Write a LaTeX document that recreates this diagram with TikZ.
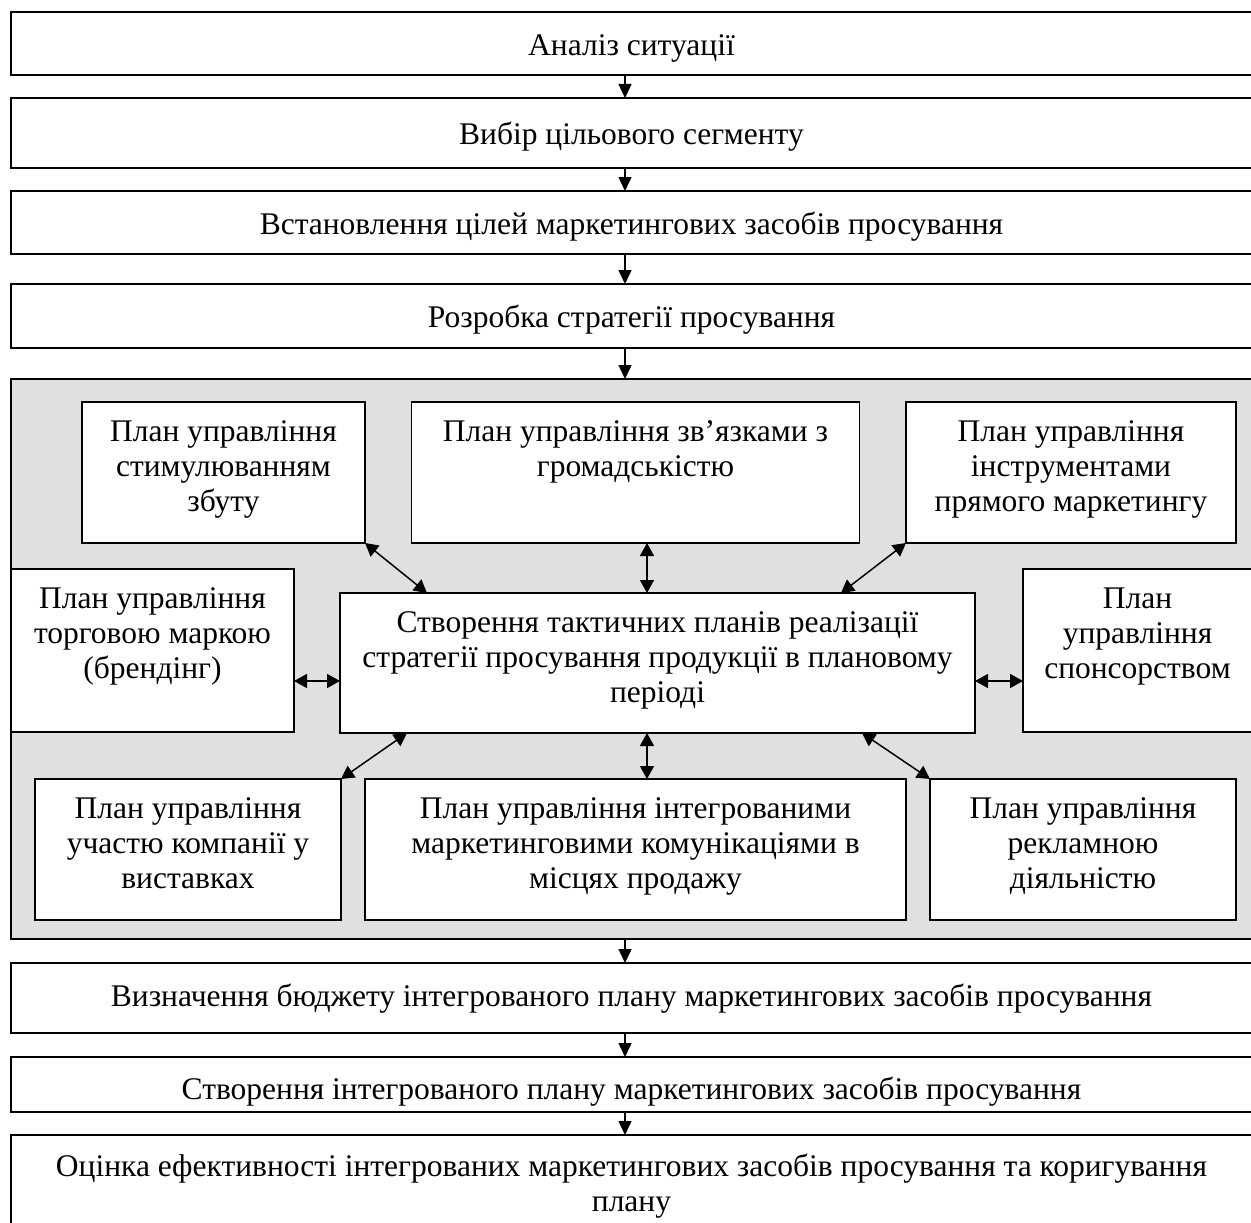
\documentclass[tikz,border=0pt]{standalone}
\usepackage{fontspec}
\setmainfont{Liberation Serif}
\usetikzlibrary{arrows.meta}
\definecolor{panelgray}{RGB}{224,224,224}
\tikzset{
  box/.style={draw, line width=1.5pt, fill=white, anchor=north west, inner sep=0pt, outer sep=0pt},
  txt/.style={anchor=north, align=center, inner sep=0pt, yshift=-18.5pt,
    font=\fontsize{31.5}{35}\selectfont, execute at begin node=\strut},
  arr/.style={line width=1.5pt, -{Triangle[length=14pt,width=13pt]}},
  biarr/.style={line width=1.5pt, {Triangle[length=13pt,width=14pt]}-{Triangle[length=13pt,width=14pt]}}
}
\begin{document}
\begin{tikzpicture}[x=1pt,y=-1pt]
\useasboundingbox (0,0) rectangle (1251,1223);
\coordinate (axis) at (625,0);
\coordinate (inaxis) at (647,0);
\coordinate (hz) at (0,681);
% main chain, top part
\node[box, minimum width=1241pt, minimum height=63pt] (b1) at (11,12) {};
\node[txt] at (b1.north) {Аналіз ситуації};
\node[box, minimum width=1241pt, minimum height=70pt] (b2) at (11,98) {};
\node[txt, yshift=-3pt] at (b2.north) {Вибір цільового сегменту};
\node[box, minimum width=1241pt, minimum height=63pt] (b3) at (11,191) {};
\node[txt] at (b3.north) {Встановлення цілей маркетингових засобів просування};
\node[box, minimum width=1241pt, minimum height=64pt] (b4) at (11,284) {};
\node[txt] at (b4.north) {Розробка стратегії просування};
% grey panel with the tactical plans
\node[box, fill=panelgray, minimum width=1241pt, minimum height=560pt] (panel) at (11,379) {};
\node[box, minimum width=283pt, minimum height=141pt] (stim) at (82,402) {};
\node[txt] at (stim.north) {План управління\\стимулюванням\\збуту};
\node[box, minimum width=448pt, minimum height=141pt] (pub) at (411.5,402) {};
\node[txt] at (pub.north) {План управління зв’язками з\\громадськістю};
\node[box, minimum width=330pt, minimum height=141pt] (dir) at (906,402) {};
\node[txt] at (dir.north) {План управління\\інструментами\\прямого маркетингу};
\node[box, minimum width=283pt, minimum height=163pt] (brand) at (11,569) {};
\node[txt] at (brand.north) {План управління\\торговою маркою\\(брендінг)};
\node[box, minimum width=635pt, minimum height=140pt] (ctr) at (340,593) {};
\node[txt] at (ctr.north) {Створення тактичних планів реалізації\\стратегії просування продукції в плановому\\періоді};
\node[box, minimum width=229pt, minimum height=163pt] (spon) at (1023,569) {};
\node[txt] at (spon.north) {План\\управління\\спонсорством};
\node[box, minimum width=306pt, minimum height=141pt] (exh) at (35,779) {};
\node[txt] at (exh.north) {План управління\\участю компанії у\\виставках};
\node[box, minimum width=541pt, minimum height=141pt] (int) at (365,779) {};
\node[txt] at (int.north) {План управління інтегрованими\\маркетинговими комунікаціями в\\місцях продажу};
\node[box, minimum width=306pt, minimum height=141pt] (adv) at (930,779) {};
\node[txt] at (adv.north) {План управління\\рекламною\\діяльністю};
% main chain, bottom part
\node[box, minimum width=1241pt, minimum height=70pt] (b5) at (11,963) {};
\node[txt] at (b5.north) {Визначення бюджету інтегрованого плану маркетингових засобів просування};
\node[box, minimum width=1241pt, minimum height=55pt] (b6) at (11,1057) {};
\node[txt, yshift=1pt] at (b6.north) {Створення інтегрованого плану маркетингових засобів просування};
\node[box, minimum width=1241pt, minimum height=90pt] (b7) at (11,1135) {};
\node[txt] at (b7.north) {Оцінка ефективності інтегрованих маркетингових засобів просування та коригування\\плану};
% arrows of the chain
\draw[arr] (b1.south -| axis) -- (b2.north -| axis);
\draw[arr] (b2.south -| axis) -- (b3.north -| axis);
\draw[arr] (b3.south -| axis) -- (b4.north -| axis);
\draw[arr] (b4.south -| axis) -- (panel.north -| axis);
\draw[arr] (panel.south -| axis) -- (b5.north -| axis);
\draw[arr] (b5.south -| axis) -- (b6.north -| axis);
\draw[arr] (b6.south -| axis) -- (b7.north -| axis);
% links to the centre box
\draw[biarr] (stim.south east) -- ([xshift=87pt]ctr.north west);
\draw[biarr] (pub.south -| inaxis) -- (ctr.north -| inaxis);
\draw[biarr] (dir.south west) -- ([xshift=-134pt]ctr.north east);
\draw[biarr] (brand.east |- hz) -- (ctr.west |- hz);
\draw[biarr] (ctr.east |- hz) -- (spon.west |- hz);
\draw[biarr] ([xshift=67pt]ctr.south west) -- (exh.north east);
\draw[biarr] (ctr.south -| inaxis) -- (int.north -| inaxis);
\draw[biarr] ([xshift=-113pt]ctr.south east) -- (adv.north west);
\end{tikzpicture}
\end{document}
